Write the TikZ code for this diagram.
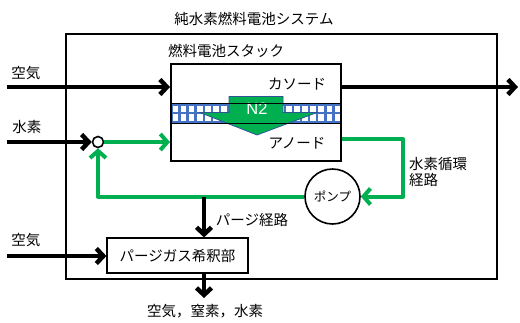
\documentclass[tikz,border=0pt]{standalone}
\usepackage{fontspec}
\setmainfont{Noto Sans CJK JP}
\newfontfamily\latinsans{Liberation Sans}
\usetikzlibrary{arrows.meta}
\definecolor{gr}{HTML}{00B050}
\definecolor{gridblue}{HTML}{4472C4}
\definecolor{edgeblue}{HTML}{2F5597}
\begin{document}
\begin{tikzpicture}[x=1pt,y=-1pt,
  font=\fontsize{14.5}{17}\selectfont,
  lbl/.style={inner sep=0pt},
  blk/.style={line width=4.5pt,-{Straight Barb[length=7pt,width=15pt]}},
  grn/.style={draw=gr,line width=4pt,line join=round,-{Straight Barb[length=7pt,width=16pt]}},
  boxthin/.style={draw,line width=1.2pt,inner sep=0pt}]
\useasboundingbox (0,0) rectangle (520,322);
% system box
\node[draw,line width=1.4pt,minimum width=431pt,minimum height=245pt,inner sep=0pt] (sys) at (281.5,156.5) {};
\node[lbl] (title) at (254,19) {純水素燃料電池システム};
% membrane grid
\fill[gridblue] (171,104) rectangle (341,123);
\foreach \i in {0,...,20}{
  \fill[white] ({172.6+8.1*\i},105.6) rectangle ({178.2+8.1*\i},112.2);
  \fill[white] ({172.6+8.1*\i},114.4) rectangle ({178.2+8.1*\i},121.2);
}
% N2 arrow
\filldraw[fill=gr,draw=edgeblue,line width=0.8pt,line join=miter] (229,96.5) -- (283,96.5) -- (283,112.5) -- (317,112.5) -- (257,135) -- (200,112.5) -- (229,112.5) -- cycle;
\node[lbl,text=white,font=\latinsans\fontsize{16.5}{18}\selectfont] (n2) at (257,108.5) {N2};
% stack
\node[draw,line width=2pt,minimum width=170pt,minimum height=97pt,inner sep=0pt] (stack) at (256,112.5) {};
\draw[line width=1.6pt] (stack.west |- 0,103.5) -- (stack.east |- 0,103.5);
\draw[line width=1.6pt] (stack.west |- 0,123.5) -- (stack.east |- 0,123.5);
\node[lbl,anchor=west] (stlbl) at (168,51) {燃料電池スタック};
\node[lbl] (cath) at (297,84) {カソード};
\node[lbl] (anod) at (297,143) {アノード};
% junction and pump
\node[circle,draw,line width=1.6pt,minimum size=11pt,inner sep=0pt,fill=white] (jn) at (98,142) {};
\node[circle,draw,line width=1.6pt,minimum size=55pt,inner sep=0pt,font=\fontsize{12.5}{14}\selectfont] (pump) at (332.5,196.5) {ポンプ};
% purge box
\node[boxthin,minimum width=141pt,minimum height=35pt] (purge) at (177.5,255.5) {パージガス希釈部};
% coordinates
\coordinate (a1) at (7,87);
\coordinate (co) at (518,87);
\coordinate (h2) at (7,142);
\coordinate (ret) at (403,139);
\coordinate (pt) at (204,196.5);
\coordinate (a2) at (7,256);
\coordinate (out) at (204,298);
% black arrows
\draw[blk] (a1) -- (a1 -| stack.west);
\draw[blk] (co -| stack.east) -- (co);
\draw[blk] (h2) -- (jn.west);
% green loop
\draw[grn] (jn.east) -- (jn.east -| stack.west);
\draw[grn] (stack.east |- ret) -- (ret) |- (pump.east);
\draw[grn] (pump.west) -| (jn.south);
% purge
\draw[blk] (pt) -- (pt |- purge.north);
\draw[blk] (a2) -- (a2 -| purge.west);
\draw[blk] (out |- purge.south) -- (out);
% labels
\node[lbl] (l1) at (26,73) {空気};
\node[lbl] (l2) at (27,127) {水素};
\node[lbl] (l3) at (26,240) {空気};
\node[lbl] (l4) at (252,220) {パージ経路};
\node[lbl,anchor=west,align=left,font=\fontsize{14.5}{16.5}\selectfont] (l5) at (409,172) {水素循環\\経路};
\node[lbl] (l6) at (205,311) {空気，窒素，水素};
\end{tikzpicture}
\end{document}
